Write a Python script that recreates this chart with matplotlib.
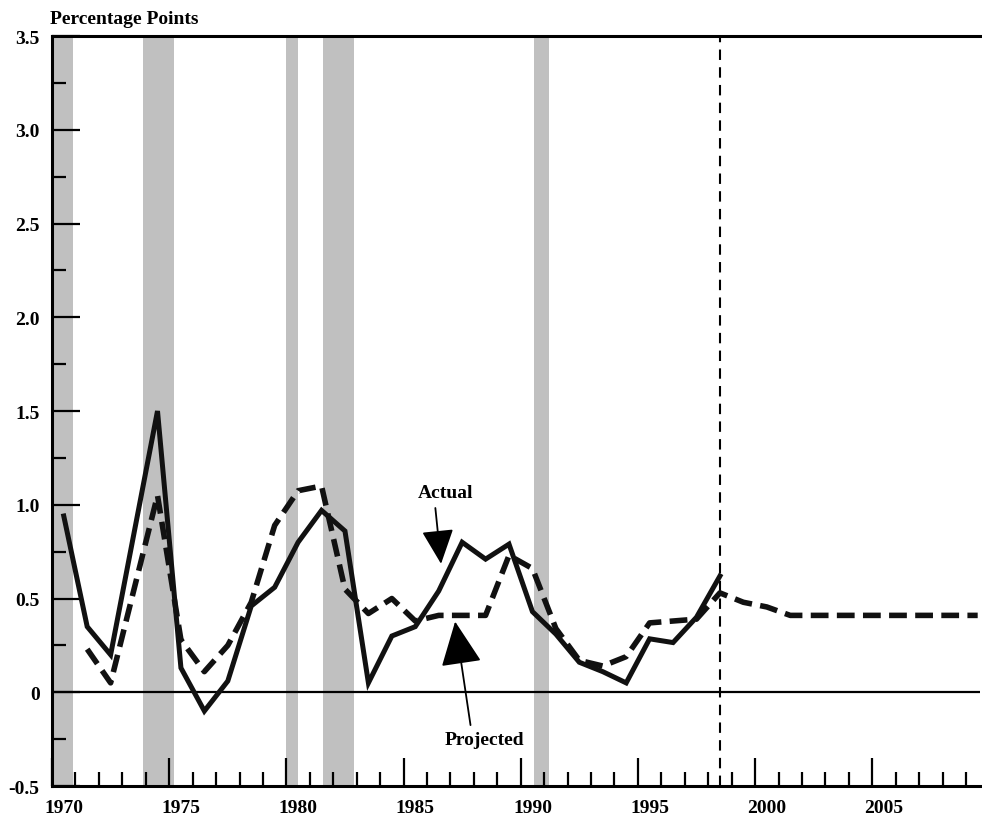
import numpy as np
import matplotlib
matplotlib.use("Agg")
import matplotlib.pyplot as plt
from matplotlib.ticker import MultipleLocator, NullFormatter

plt.rcParams["font.family"] = ["Liberation Serif", "DejaVu Serif"]
plt.rcParams["font.weight"] = "bold"

# ---------------------------------------------------------------------------
# data (plotted at mid-year)
# ---------------------------------------------------------------------------
actual_years = np.arange(1970, 1999)
actual = [0.94, 0.35, 0.20, 0.85, 1.50, 0.13, -0.10, 0.06, 0.46, 0.56,
          0.80, 0.97, 0.86, 0.05, 0.30, 0.35, 0.54, 0.80, 0.71, 0.79,
          0.43, 0.31, 0.16, 0.11, 0.05, 0.285, 0.265, 0.40, 0.62]

projected_years = np.arange(1971, 2010)
projected = [0.23, 0.05, 0.55, 1.05, 0.28, 0.11, 0.25, 0.48, 0.89, 1.075,
             1.10, 0.55, 0.42, 0.50, 0.38, 0.41, 0.41, 0.41, 0.73, 0.66,
             0.34, 0.17, 0.14, 0.19, 0.37, 0.38, 0.39, 0.53, 0.48, 0.455,
             0.41, 0.41, 0.41, 0.41, 0.41, 0.41, 0.41, 0.41, 0.41]

# recessions (start, end) in fractional years
recessions = [(1969.92, 1970.88), (1973.88, 1975.2), (1980.0, 1980.5),
              (1981.55, 1982.9), (1990.55, 1991.2)]

forecast_start = 1998.5
year_labels = list(range(1970, 2010, 5))

fig = plt.figure(figsize=(9.82, 8.28), dpi=100)
ax = fig.add_axes([0.053, 0.0495, 0.945, 0.9058])

for start, end in recessions:
    ax.axvspan(start, end, color="#c0c0c0", lw=0, zorder=0)

ax.axhline(0, color="black", lw=1.6, zorder=2)
ax.axvline(forecast_start, color="black", lw=1.5, dashes=(5, 3.5), zorder=2)

ax.plot(projected_years + 0.5, projected, color="#111111", lw=4.0,
        dashes=(3.2, 1.5), zorder=3)
ax.plot(actual_years + 0.5, actual, color="#111111", lw=3.6, zorder=4,
        solid_joinstyle="miter")

# annotations
ax.annotate("Actual", xy=(1986.6, 0.685), xytext=(1986.8, 1.065),
            ha="center", va="center", fontsize=14, fontweight="bold",
            arrowprops=dict(arrowstyle="-|>,head_length=2.15,head_width=1.0",
                            color="black", lw=1.3, mutation_scale=10,
                            shrinkA=3, shrinkB=0, relpos=(0.3, 0.0)))
ax.annotate("Projected", xy=(1987.2, 0.377), xytext=(1988.47, -0.25),
            ha="center", va="center", fontsize=14, fontweight="bold",
            arrowprops=dict(arrowstyle="-|>,head_length=2.8,head_width=1.3",
                            color="black", lw=1.3, mutation_scale=10,
                            shrinkA=2, shrinkB=0,
                            relpos=(0.33, 1.0)))

ax.set_xlim(1970, 2009.6)
ax.set_ylim(-0.5, 3.5)

ax.spines["right"].set_visible(False)
for side in ["left", "top", "bottom"]:
    ax.spines[side].set_linewidth(2.2)

ax.yaxis.set_minor_locator(MultipleLocator(0.25))
ax.set_yticks(np.arange(-0.5, 3.51, 0.5))
ax.set_yticklabels(["-0.5", "0", "0.5", "1.0", "1.5", "2.0", "2.5", "3.0", "3.5"])

ax.xaxis.set_major_locator(MultipleLocator(5))
ax.xaxis.set_minor_locator(MultipleLocator(1))
ax.xaxis.set_major_formatter(NullFormatter())

ax.tick_params(axis="both", which="major", direction="in", length=20, width=1.6,
               labelsize=14, top=False, right=False)
ax.tick_params(axis="both", which="minor", direction="in", length=10, width=1.6,
               top=False, right=False)
ax.tick_params(axis="y", which="major", pad=9)

for yr in year_labels:
    ax.text(yr + 0.5, -0.028, str(yr), transform=ax.get_xaxis_transform(),
            ha="center", va="center", fontsize=14, fontweight="bold")

fig.text(0.051, 0.977, "Percentage Points", ha="left", va="center",
         fontsize=14, fontweight="bold")

fig.savefig("out.png", dpi=100)
